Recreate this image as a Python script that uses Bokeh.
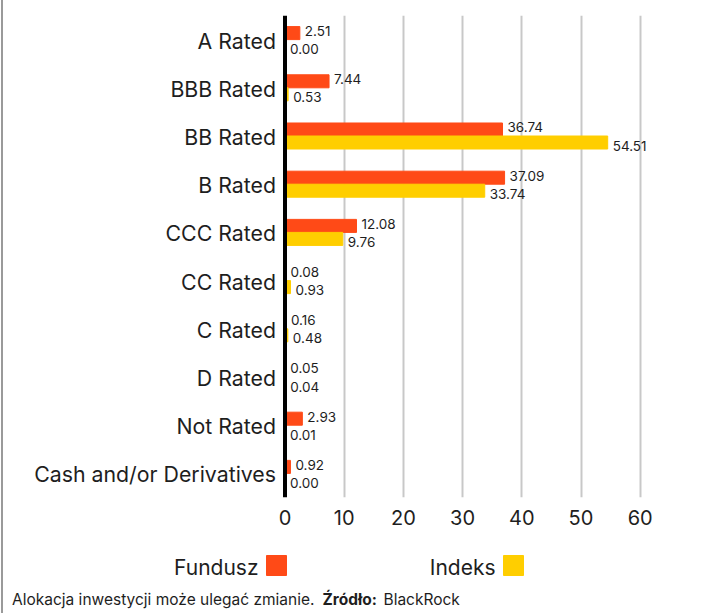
from bokeh.plotting import figure
from bokeh.models import Range1d, FixedTicker, ColumnDataSource, Span, FactorRange
from bokeh.transform import dodge
from bokeh.layouts import column
from bokeh.embed import file_html
from bokeh.resources import INLINE
from bokeh.core.properties import value

categories = ["A Rated", "BBB Rated", "BB Rated", "B Rated", "CCC Rated",
              "CC Rated", "C Rated", "D Rated", "Not Rated", "Cash and/or Derivatives"]
fundusz = [2.51, 7.44, 36.74, 37.09, 12.08, 0.08, 0.16, 0.05, 2.93, 0.92]
indeks = [0.00, 0.53, 54.51, 33.74, 9.76, 0.93, 0.48, 0.04, 0.01, 0.00]
x_ticks = [0, 10, 20, 30, 40, 50, 60]
series_names = ["Fundusz", "Indeks"]
footer_normal = "Alokacja inwestycji może ulegać zmianie."
footer_bold = "Źródło:"
footer_source = "BlackRock"

ORANGE = "#FF4A17"
YELLOW = "#FFCE00"
TXT = "#1e1e1e"
FONT = "Inter"

W = 722
H1 = 530
H2 = 613 - H1

src = ColumnDataSource(dict(
    cat=categories,
    zero=[0] * len(categories),
    f=fundusz,
    i=indeks,
    fl=["%.2f" % v for v in fundusz],
    il=["%.2f" % v for v in indeks],
))

zero_px = 284.5
ppu = 5.92
y_range = FactorRange(factors=list(reversed(categories)))
x_range = Range1d(-zero_px / ppu, (W - zero_px) / ppu)

p = figure(width=W, height=H1, y_range=y_range, x_range=x_range,
           output_backend="svg", toolbar_location=None,
           min_border_left=0, min_border_right=0,
           min_border_top=15, min_border_bottom=H1 - 497)
p.outline_line_color = None
p.border_fill_color = None
p.background_fill_color = None
p.yaxis.visible = False

off = 0.135
hgt = 0.27
p.hbar(y=dodge("cat", off, range=y_range), left=0, right="f", height=hgt,
       color=ORANGE, source=src)
p.hbar(y=dodge("cat", -off, range=y_range), left=0, right="i", height=hgt,
       color=YELLOW, source=src)

# zero axis line
p.add_layout(Span(location=0, dimension="height", line_color="black", line_width=4))

# category labels
p.text(x="zero", y="cat", text="cat", source=src, x_offset=-9, y_offset=1,
       text_font=value(FONT), text_font_size="21.3px", text_color=TXT,
       text_baseline="middle", text_align="right")

p.text(x="f", y=dodge("cat", off, range=y_range), text="fl", source=src,
       x_offset=5, y_offset=-2, text_font=value(FONT), text_font_size="13.5px",
       text_color=TXT, text_baseline="middle", text_align="left")
p.text(x="i", y=dodge("cat", -off, range=y_range), text="il", source=src,
       x_offset=5, y_offset=3, text_font=value(FONT), text_font_size="13.5px",
       text_color=TXT, text_baseline="middle", text_align="left")

p.xaxis.ticker = FixedTicker(ticks=x_ticks)
p.xaxis.axis_line_color = None
p.xaxis.major_tick_line_color = None
p.xaxis.minor_tick_line_color = None
p.xaxis.major_label_standoff = 6
p.xaxis.major_label_text_font = FONT
p.xaxis.major_label_text_font_size = "20px"
p.xaxis.major_label_text_color = TXT

p.ygrid.grid_line_color = None
p.xgrid.ticker = FixedTicker(ticks=x_ticks[1:])
p.xgrid.grid_line_color = "#c8c8c8"
p.xgrid.grid_line_width = 2

# legend + footer panel (pixel coordinates, y downward)
q = figure(width=W, height=H2, x_range=Range1d(0, W), y_range=Range1d(H2, 0),
           output_backend="svg", toolbar_location=None, min_border=0)
q.axis.visible = False
q.grid.visible = False
q.outline_line_color = None
q.border_fill_color = None
q.background_fill_color = None

ly = 567 - H1
q.text(x=[258, 495], y=[ly, ly], text=series_names, text_font=value(FONT),
       text_font_size="21px", text_color=TXT, text_align="right",
       text_baseline="middle")
q.quad(left=[266, 503], right=[286, 523], top=[555 - H1] * 2, bottom=[575 - H1] * 2,
       color=[ORANGE, YELLOW])

fy = 599 - H1
q.text(x=[11.5], y=[fy], text=[footer_normal], text_font=value(FONT),
       text_font_size="15.5px", text_color=TXT, text_baseline="middle")
q.text(x=[322], y=[fy], text=[footer_bold], text_font=value(FONT),
       text_font_size="15.5px", text_font_style="bold", text_color=TXT,
       text_baseline="middle")
q.text(x=[383], y=[fy], text=[footer_source], text_font=value(FONT),
       text_font_size="15.5px", text_color=TXT, text_baseline="middle")

layout = column(p, q, spacing=0,
                styles={"background-color": "white",
                        "box-shadow": "inset 1px 0 0 0 white, inset 3px 0 0 0 #9a9a9a"})
open("out.html", "w").write(file_html(layout, INLINE))
